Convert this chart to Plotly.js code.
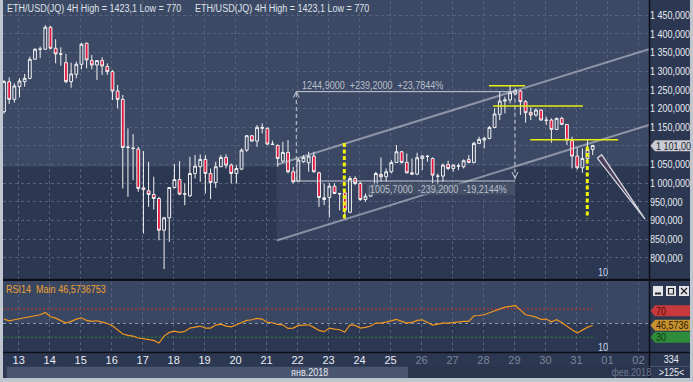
<!DOCTYPE html>
<html><head><meta charset="utf-8">
<script src="https://cdn.plot.ly/plotly-3.0.1.min.js"></script>
<style>html,body{margin:0;padding:0;background:#c0c6d0;overflow:hidden}#chart{width:693px;height:382px}</style>
</head><body><div id="chart"></div>
<script>
const FONT = "'Liberation Sans',Arial,sans-serif";
const SQ = 0.82; // horizontal squeeze to mimic the narrow terminal font
const W = 693, H = 382;

// ---- data (4H candles, ETH/USD) ----
const open = [1191.3,1271.7,1224.3,1258.3,1271.7,1280.6,1331.6,1358.4,1358.4,1417.3,
1361.0,1345.9,1322.6,1271.7,1291.3,1318.2,1374.5,1328.0,1316.4,1328.0,
1311.9,1298.5,1246.7,1224.3,1095.6,1094.0,1091.2,987.5,979.4,969.6,
958.9,874.0,907.1,988.4,1009.8,970.5,966.0,1025.9,1043.8,1063.5,
1025.9,1001.8,1043.8,1068.8,1048.3,1025.9,1037.5,1088.5,1126.9,1112.6,
1146.6,1146.6,1104.6,1101.0,1059.0,1082.2,1030.4,1005.4,1057.2,1054.5,
1072.4,1027.7,956.2,961.6,991.9,972.3,974.1,922.1,1012.5,999.1,
956.2,965.1,991.9,1023.2,1017.0,1030.4,1055.4,1084.0,1055.4,1027.7,
1024.1,1066.1,1072.0,1066.1,1019.0,1018.8,1050.0,1039.3,1045.6,1043.8,
1063.5,1055.4,1106.4,1115.3,1119.8,1149.2,1184.1,1219.8,1222.5,1238.6,
1246.7,1218.1,1189.5,1182.3,1195.7,1168.9,1168.9,1143.9,1173.4,1157.3,
1113.5,1072.4,1041.1,1066.1,1090.3];
const high = [1276,1283.3,1267.2,1280.6,1292.2,1338.7,1361.0,1365.5,1423.1,1420.9,
1385.2,1363.7,1345.9,1322.6,1325.3,1376.2,1376.0,1343.2,1328.5,1336.9,
1320.8,1303.0,1262.7,1235.9,1146.6,1131.4,1097.4,1085.8,1057.2,1017.0,
963.3,909.7,989.0,1050.9,1059.0,999.1,1070.6,1075.1,1076.9,1075.1,
1039.3,1057.2,1075.1,1076.9,1052.7,1048.3,1092.9,1128.7,1128.7,1155.5,
1160.0,1149.2,1113.5,1103.7,1110.8,1115.3,1043.8,1066.1,1075.1,1084.0,
1084.0,1030.4,999.1,1000.0,999.1,974.1,981.2,1018.8,1018.8,1003.6,
972.3,994.6,1030.4,1068.8,1039.3,1061.7,1101.9,1085.8,1079.5,1066.1,
1081.3,1075.1,1075.1,1068.8,1025.9,1052.7,1059.9,1050.0,1052.7,1063.5,
1075.1,1110.8,1124.2,1124.2,1152.8,1200.2,1244.9,1231.5,1262.7,1253.8,
1249.3,1222.5,1202.9,1200.2,1197.5,1177.8,1173.4,1175.2,1177.8,1158.2,
1124.2,1095.6,1092.9,1115.3,1101.9];
const low = [1186,1211.8,1215.4,1229.7,1258.3,1277.9,1331.6,1334.3,1358.4,1358.4,
1320.8,1314.6,1267.2,1255.6,1280.6,1304.8,1307.4,1304.8,1276.1,1289.6,
1289.6,1222.5,1200.2,985.7,963.3,1008.0,976.8,865.1,936.5,929.4,
847.2,770.0,842.7,985.7,967.8,941.0,963.3,1012.5,1003.6,972.3,
957.1,987.5,1043.8,1039.3,999.1,999.1,1034.9,1084.0,1110.8,1097.4,
1133.2,1101.9,1101.9,1043.8,1054.5,1025.9,999.1,1003.6,1054.5,1030.4,
1028.0,936.5,941.0,908.7,970.5,927.6,904.3,919.5,994.6,952.6,
950.0,963.4,990.2,1003.6,1003.6,1025.9,1054.5,1052.7,1025.9,1021.4,
1021.4,1034.9,1057.2,999.1,994.6,1003.6,1034.9,1030.4,1034.9,1039.3,
1052.7,1052.7,1104.6,1092.9,1117.1,1146.6,1168.9,1186.8,1213.6,1235.9,
1182.3,1161.8,1168.9,1177.8,1167.1,1155.5,1108.1,1142.1,1155.5,1101.9,
1039.3,1036.6,1027.7,1052.7,1075.1];
const close = [1271.7,1224.3,1260.1,1273.5,1280.6,1331.6,1358.4,1358.9,1417.3,1361.0,
1345.9,1345.4,1271.7,1292.2,1318.2,1371.8,1329.8,1316.4,1328.0,1313.7,
1298.5,1246.7,1224.3,1095.6,1096.5,1093.0,985.7,982.5,969.6,958.9,
874.0,907.1,988.4,1009.8,970.5,971.2,1025.9,1045.6,1063.5,1025.9,
1001.8,1043.8,1068.8,1048.3,1025.9,1039.3,1088.5,1126.9,1112.6,1149.2,
1149.2,1104.6,1103.7,1066.1,1082.2,1030.4,1003.6,1061.7,1068.8,1072.4,
1030.4,961.6,960.7,991.9,972.3,971.5,927.6,1012.5,999.1,956.2,
965.1,991.9,1025.9,1017.0,1030.4,1055.4,1084.0,1055.4,1027.7,1024.1,
1067.9,1072.4,1071.5,1021.4,1018.8,1048.3,1039.3,1048.3,1046.0,1059.9,
1055.4,1106.4,1117.1,1119.8,1149.2,1185.0,1219.8,1222.5,1242.2,1247.6,
1218.1,1188.6,1182.3,1195.7,1168.9,1168.2,1143.9,1173.4,1157.3,1115.3,
1072.4,1041.1,1066.1,1090.3,1101.0];
const rsi = [55.7,53.3,54.7,56.1,57.5,59.4,60.4,61.8,65.1,59.0,
57.1,53.8,50.0,52.4,55.7,57.5,53.8,52.4,53.3,51.4,
49.5,46.2,40.6,34.5,32.6,31.6,28.8,27.4,26.9,25.5,
21.7,31.6,36.8,38.7,36.8,38.2,42.9,44.8,45.8,42.9,
42.9,47.2,48.6,45.8,44.8,47.6,50.9,53.8,54.7,56.6,
55.7,50.9,50.5,48.1,47.6,42.5,42.9,46.7,47.2,47.6,
43.9,39.6,37.8,42.9,41.5,40.6,37.3,47.6,46.7,42.9,
43.9,45.8,50.0,50.0,51.4,53.8,55.2,52.4,50.0,50.9,
53.8,54.7,51.4,47.2,48.6,50.0,50.0,50.9,51.9,52.4,
52.4,60.4,60.8,61.8,64.6,67.0,70.3,72.6,73.6,75.0,
68.4,61.8,60.4,58.5,55.2,55.7,51.9,54.7,50.9,45.3,
40.6,35.9,40.6,44.3,46.57];
const rsiLevels = [70, 30];
const dayLabels = ['13','14','15','16','17','18','19','20','21','22','23','24','25','26','27','28','29','30','31','01','02'];
const dayDim    = [0,0,0,0,0,0,0,0,0,0,0,0,0,1,1,1,1,1,1,1,1];
const priceTicks = [800,850,900,950,1000,1050,1100,1150,1200,1250,1300,1350,1400,1450];
const priceTickText = ['800,000','850,000','900,000','950,000','1 000,000','1 050,000','','1 150,000','1 200,000','1 250,000','1 300,000','1 350,000','1 400,000','1 450,000'];
const titleText = 'ETH/USD(JQ) 4H High = 1423,1 Low = 770';
const lastPriceText = '1 101,00';
const lastRsiText = '46,5736';
const rsiTitle = 'RSI14\u00a0\u00a0Main 46,5736753';

// ---- drawing objects (candle index / price units) ----
const channelUp  = {k:[52.81,124.9], p:[1049.1,1358.5]};
const channelLow = {k:[52.81,124.9], p:[846.6,1156.1]};
const meas = {k0:56.6, k1:98.95, pTop:1244.9, pBot:1005.7};
const measUpText  = '1244,9000\u00a0\u00a0+239,2000\u00a0\u00a0+23,7844%';
const measLowText = '1005,7000\u00a0\u00a0-239,2000\u00a0\u00a0-19,2144%';
const yellowLevels = [{p:1260.9,k:[93.9,100.9]},{p:1206.5,k:[94.7,112.1]},{p:1116.1,k:[101.9,118.9]}];
const yellowDashed = [{k:65.9,p:[1107.3,906.1]},{k:112.95,p:[1098.2,906.1]}];
const wedge = {k:[114.89,115.74,124.13,114.89], p:[1067.0,1075.9,903.5,1067.0]};

// ---- geometry ----
const idx = open.map((_, i) => i);
const dayPos = dayLabels.map((_, j) => 2.85 + 6 * j);
const xRange = [-0.194, 124.9];
const px = x => x / W, py = y => 1 - y / H;

const gridC = '#56627d';
const traces = [];
traces.push({type:'candlestick', x:idx, open, high, low, close, xaxis:'x', yaxis:'y',
  increasing:{line:{color:'#f2f2f2', width:1}, fillcolor:'rgba(0,0,0,0)'},
  decreasing:{line:{color:'#f2f2f2', width:1}, fillcolor:'#e3173e'},
  whiskerwidth:0});

const chanStyle = {color:'rgba(205,210,220,0.55)', width:2};
traces.push({type:'scatter', mode:'lines', x:channelUp.k, y:channelUp.p, line:chanStyle});
traces.push({type:'scatter', mode:'lines', x:channelLow.k, y:channelLow.p, line:chanStyle});

const measC = '#c9cdd5';
traces.push({type:'scatter', mode:'lines', x:[meas.k0, meas.k1], y:[meas.pTop, meas.pTop], line:{color:measC, width:1}});
traces.push({type:'scatter', mode:'lines', x:[meas.k0 - 0.3, meas.k1], y:[meas.pBot, meas.pBot], line:{color:measC, width:1}});
traces.push({type:'scatter', mode:'lines', x:[meas.k0, meas.k0], y:[meas.pBot, meas.pTop], line:{color:measC, width:1, dash:'4px,3px'}});
traces.push({type:'scatter', mode:'lines', x:[meas.k1, meas.k1], y:[meas.pTop, meas.pBot], line:{color:measC, width:1, dash:'4px,3px'}});
traces.push({type:'scatter', mode:'lines', x:[meas.k0 - 0.58, meas.k0, meas.k0 + 0.58], y:[meas.pTop - 16, meas.pTop, meas.pTop - 16], line:{color:measC, width:1}});
traces.push({type:'scatter', mode:'lines', x:[meas.k1 - 0.58, meas.k1, meas.k1 + 0.58], y:[meas.pBot + 24, meas.pBot + 8, meas.pBot + 24], line:{color:measC, width:1}});

yellowLevels.forEach(l => traces.push({type:'scatter', mode:'lines', x:l.k, y:[l.p, l.p], line:{color:'#e8ec10', width:1.5}}));
yellowDashed.forEach(l => traces.push({type:'scatter', mode:'lines', x:[l.k, l.k], y:l.p, line:{color:'#f2f20a', width:3, dash:'4px,2.5px'}}));
traces.push({type:'scatter', mode:'lines', x:wedge.k, y:wedge.p, fill:'toself', fillcolor:'#4a3d5c', line:{color:'#d2d4dc', width:1.3}});

// RSI pane
traces.push({type:'scatter', mode:'lines', x:[xRange[0], idx[idx.length-1]], y:[rsiLevels[0], rsiLevels[0]], xaxis:'x2', yaxis:'y2', line:{color:'#d23434', width:1, dash:'2px,2px'}});
traces.push({type:'scatter', mode:'lines', x:[xRange[0], idx[idx.length-1]], y:[rsiLevels[1], rsiLevels[1]], xaxis:'x2', yaxis:'y2', line:{color:'#2a8a2e', width:1, dash:'2px,2px'}});
traces.push({type:'scatter', mode:'lines', x:idx, y:rsi, xaxis:'x2', yaxis:'y2', line:{color:'#f0961e', width:1.2}});

traces.forEach(t => { t.hoverinfo = 'skip'; t.showlegend = false; });

// ---- shapes ----
function rectPx(x0, y0, x1, y1, fill, layer) {
  return {type:'rect', xref:'paper', yref:'paper', x0:px(x0), x1:px(x1), y0:py(y1), y1:py(y0), fillcolor:fill, line:{width:0}, layer:layer || 'below'};
}
function linePx(x0, y0, x1, y1, color, width) {
  return {type:'line', xref:'paper', yref:'paper', x0:px(x0), x1:px(x1), y0:py(y0), y1:py(y1), line:{color, width}, layer:'above'};
}
function pathPx(pts, fill, lc, lw) {
  return {type:'path', xref:'paper', yref:'paper', path:'M' + pts.map(p => px(p[0]) + ',' + py(p[1])).join('L') + 'Z', fillcolor:fill, line:{color:lc || 'rgba(0,0,0,0)', width:lw || 0}, layer:'above'};
}
function tagPx(yc, fill) {
  return pathPx([[650.5, yc], [655, yc - 5.5], [690, yc - 5.5], [690, yc + 5.5], [655, yc + 5.5]], fill);
}
const shapes = [
  rectPx(3, 0, 690, 378, '#2c3751'),
  rectPx(3, 0, 649, 166.7, '#3c4965'),
  rectPx(276.7, 166.7, 515, 240, '#36425e'),
  rectPx(3, 281, 649, 323.3, '#3a4763'),
  rectPx(6.7, 366.7, 408, 378, '#4a5670'),
  rectPx(408, 366.7, 649, 378, '#2a344d'),
  {type:'rect', xref:'x', yref:'y', x0:70.2, x1:meas.k1, y0:968.6, y1:999.6, fillcolor:'rgba(72,84,108,0.78)', line:{width:0}, layer:'above'},
  linePx(649.5, 0, 649.5, 378, '#0d1016', 1.5),
  linePx(3, 279.8, 690, 279.8, '#0d1016', 2.2),
  linePx(3, 352.5, 690, 352.5, '#0d1016', 1.5),
  linePx(649.5, 366.5, 690, 366.5, '#46526b', 1),
  tagPx(145.8, '#c9ccd3'),
  tagPx(310.8, '#c7393c'),
  tagPx(325.2, '#c8922f'),
  tagPx(337.2, '#2e8c3b'),
  rectPx(653, 286, 663, 296, '#e3e5e9', 'above'),
  rectPx(666, 286, 676, 296, '#e3e5e9', 'above'),
  rectPx(679, 286, 689, 296, '#e3e5e9', 'above'),
  linePx(655, 293.5, 661, 293.5, '#222', 2),
  {type:'rect', xref:'paper', yref:'paper', x0:px(668.5), x1:px(673.5), y0:py(294), y1:py(288.5), line:{color:'#222', width:1.2}, fillcolor:'rgba(0,0,0,0)', layer:'above'},
  linePx(681, 288, 687, 294, '#222', 1.2),
  linePx(681, 294, 687, 288, '#222', 1.2),
  rectPx(690, 0, 693, 382, '#c0c6d0', 'above'),
  rectPx(0, 378, 693, 382, '#c0c6d0', 'above')
];

// ---- annotations ----
function txt(x, y, text, color, anchor, size) {
  return {xref:'paper', yref:'paper', x:px(x), y:py(y), text, showarrow:false, xanchor:anchor || 'left', yanchor:'middle', font:{family:FONT, size:size || 11, color}};
}
const annotations = [
  txt(5, 8, titleText, '#dfe3ea'),
  txt(193, 8, titleText, '#dfe3ea'),
  txt(4, 289, rsiTitle, '#f0a030'),
  {xref:'x', yref:'y', x:57.3, y:1263.6, text:measUpText, showarrow:false, xanchor:'left', yanchor:'middle', font:{family:FONT, size:11, color:'#b9bfca'}},
  {xref:'x', yref:'y', x:70.5, y:984.7, text:measLowText, showarrow:false, xanchor:'left', yanchor:'middle', font:{family:FONT, size:11, color:'#b9bfca'}},
  txt(603, 272, '10', '#c8d4ea', 'center'),
  txt(603, 347, '10', '#c8d4ea', 'center'),
  txt(653.5, 145.8, lastPriceText, '#1e2430'),
  txt(653.5, 310.8, String(rsiLevels[0]), '#5e0d0d'),
  txt(653.5, 325.2, lastRsiText, '#2b1b00'),
  txt(653.5, 337.2, String(rsiLevels[1]), '#0c3a12'),
  txt(309, 372, 'янв.2018', '#e2e6ee', 'center'),
  txt(631, 372, 'фев.2018', '#6d788e', 'center'),
  txt(671, 358.5, '334', '#e6eaf2', 'center'),
  txt(671, 372, '>125<', '#e6eaf2', 'center')
];

const dayTickText = dayLabels.map((d, i) => dayDim[i] ? '<span style="color:#7c869a">' + d + '</span>' : d);

const layout = {
  width:W, height:H, margin:{l:0, r:0, t:0, b:0},
  paper_bgcolor:'#c0c6d0', plot_bgcolor:'rgba(0,0,0,0)',
  showlegend:false, hovermode:false, boxgap:0.22,
  font:{family:FONT, size:11, color:'#e6eaf2'},
  xaxis:{domain:[px(3), px(649)], range:xRange, anchor:'y', showticklabels:false, tickvals:dayPos,
    showgrid:true, gridcolor:gridC, gridwidth:1, griddash:'3px,3px', zeroline:false, showline:false,
    rangeslider:{visible:false}, fixedrange:true},
  yaxis:{domain:[py(279), py(0.5)], range:[743.4, 1488.9], anchor:'x', side:'right',
    tickvals:priceTicks, ticktext:priceTickText, ticks:'',
    tickfont:{family:FONT, size:11, color:'#e6eaf2'},
    showgrid:true, gridcolor:gridC, gridwidth:1, griddash:'3px,3px', zeroline:false, showline:false, fixedrange:true},
  xaxis2:{domain:[px(3), px(649)], range:xRange, anchor:'y2', tickvals:dayPos, ticktext:dayTickText,
    ticks:'', tickfont:{family:FONT, size:11, color:'#e8ecf4'},
    showgrid:true, gridcolor:gridC, gridwidth:1, griddash:'3px,3px', zeroline:false, showline:false, fixedrange:true},
  yaxis2:{domain:[py(352), py(281.5)], range:[9, 109], anchor:'x2', side:'right', tickvals:[50],
    showticklabels:false, showgrid:true, gridcolor:'#8b94a9', gridwidth:1, griddash:'3px,3px',
    zeroline:false, showline:false, fixedrange:true},
  shapes, annotations
};

function squeeze(el, mode) {
  const bb = el.getBBox();
  const cx = mode === 'center' ? bb.x + bb.width / 2 : bb.x;
  const prev = el.getAttribute('transform') || '';
  el.setAttribute('transform', prev + ' translate(' + cx + ',0) scale(' + SQ + ',1) translate(' + (-cx) + ',0)');
}

Plotly.newPlot('chart', traces, layout, {staticPlot:true, displayModeBar:false}).then(gd => {
  gd.querySelectorAll('.ytick text').forEach(t => squeeze(t, 'left'));
  gd.querySelectorAll('.xtick text').forEach(t => squeeze(t, 'center'));
  gd.querySelectorAll('g.annotation').forEach(g => {
    const i = +g.getAttribute('data-index');
    const a = annotations[i];
    const t = g.querySelector('text');
    if (t && a) squeeze(t, a.xanchor === 'center' ? 'center' : 'left');
  });
});
</script></body></html>
